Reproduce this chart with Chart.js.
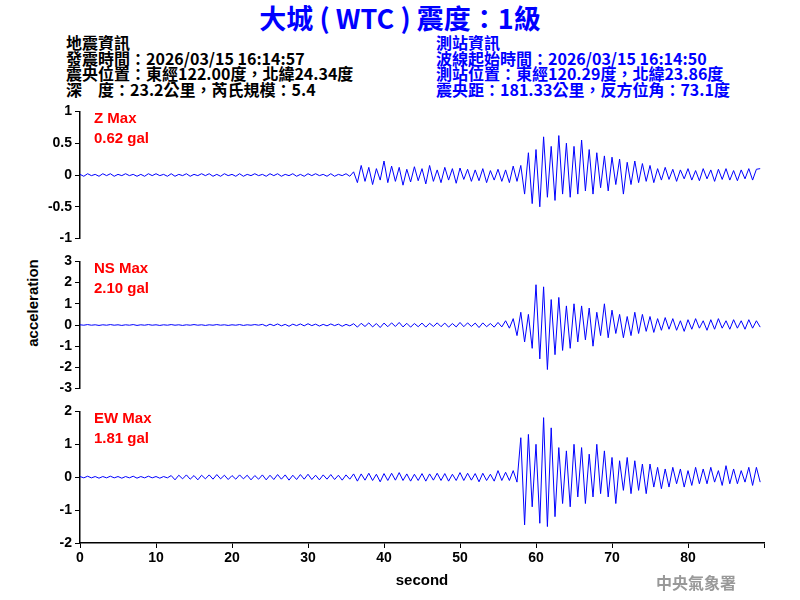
<!DOCTYPE html>
<html><head><meta charset="utf-8">
<script src="https://cdn.jsdelivr.net/npm/chart.js@4/dist/chart.umd.min.js"></script>
<style>
body{margin:0;width:800px;height:600px;position:relative;background:#fff;font-family:"Liberation Sans",Arial,sans-serif;overflow:hidden}
.t{position:absolute;white-space:nowrap}
canvas{position:absolute;left:0}
.info{font-family:"Noto Sans CJK TC","Liberation Sans",sans-serif;font-size:16px;font-weight:bold;line-height:15.7px}
.lab{color:#f00;font-size:15px;font-weight:bold;line-height:20px}
</style></head><body>
<div class="t" style="left:0;width:800px;text-align:center;top:2px;color:#0000ff;font-size:27px;font-weight:bold;line-height:32px;font-family:'Noto Sans CJK TC','Liberation Sans',sans-serif">大城 ( WTC ) 震度：1級</div>
<div class="t info" style="left:66px;top:35px;color:#000">地震資訊<br>發震時間：2026/03/15 16:14:57<br>震央位置：東經122.00度，北緯24.34度<br>深　度：23.2公里，芮氏規模：5.4</div>
<div class="t info" style="left:436px;top:35px;color:#0000ff">測站資訊<br>波線起始時間：2026/03/15 16:14:50<br>測站位置：東經120.29度，北緯23.86度<br>震央距：181.33公里，反方位角：73.1度</div>
<div class="t" style="left:32px;top:303px;transform:translate(-50%,-50%) rotate(-90deg);font-size:15px;font-weight:bold">acceleration</div>
<canvas id="c1" width="800" height="150" style="top:100px"></canvas>
<canvas id="c2" width="800" height="150" style="top:250px"></canvas>
<canvas id="c3" width="800" height="200" style="top:400px"></canvas>
<div class="t lab" style="left:94px;top:108px">Z Max<br>0.62 gal</div>
<div class="t lab" style="left:94px;top:258px">NS Max<br>2.10 gal</div>
<div class="t lab" style="left:94px;top:408px">EW Max<br>1.81 gal</div>
<div class="t" style="left:656px;top:570px;color:#999;font-size:16px;font-weight:bold;font-family:'Noto Sans CJK TC',serif">中央氣象署</div>
<script>
const dt = 0.5;
const zValues = [
0.01,-0.02,0.02,-0.01,0.01,-0.02,0.02,-0.01,0.02,-0.02,0.01,-0.01,0.02,-0.01,0.01,-0.02,0.01,-0.02,0.02,-0.01,0.02,-0.01,0.01,-0.02,
0.02,-0.02,0.01,-0.01,0.02,-0.02,0.01,-0.01,0.02,-0.01,0.02,-0.02,0.01,-0.02,0.02,-0.01,0.01,-0.02,0.02,-0.02,0.01,-0.01,0.02,-0.01,
0.01,-0.02,0.02,-0.01,0.02,-0.02,0.01,-0.01,0.02,-0.02,0.01,-0.02,0.02,-0.01,0.02,-0.01,0.01,-0.02,0.02,-0.02,0.01,-0.01,0.02,-0.02,
0.05,-0.12,0.15,-0.1,0.12,-0.15,0.1,-0.08,0.22,-0.12,0.14,-0.1,0.12,-0.16,0.09,-0.11,0.13,-0.09,0.1,-0.14,0.15,-0.1,
0.08,-0.12,0.12,-0.08,0.1,-0.13,0.11,-0.07,0.09,-0.1,0.08,-0.09,0.1,-0.12,0.07,-0.08,0.09,-0.1,0.08,-0.12,0.14,-0.1,
0.15,-0.3,0.35,-0.45,0.4,-0.5,0.6,-0.35,0.45,-0.4,0.62,-0.3,0.5,-0.35,0.45,-0.3,0.55,-0.25,0.4,-0.3,
0.35,-0.2,0.3,-0.25,0.28,-0.15,0.25,-0.3,0.2,-0.15,0.22,-0.12,0.18,-0.1,0.15,-0.12,
0.1,-0.08,0.12,-0.07,0.09,-0.1,0.08,-0.06,0.1,-0.08,0.07,-0.09,0.1,-0.06,0.08,-0.1,0.09,-0.07,0.1,-0.08,0.07,-0.09,0.08,-0.06,0.1,-0.08,0.09,0.1];
const nsValues = [
0.01,-0.01,0.02,-0.01,0.01,-0.02,0.01,-0.01,0.02,-0.01,0.01,-0.02,0.01,-0.01,0.02,-0.02,0.01,-0.01,0.02,-0.01,0.01,-0.02,0.01,-0.01,
0.02,-0.01,0.01,-0.02,0.01,-0.01,0.02,-0.01,0.01,-0.02,0.01,-0.01,0.02,-0.01,0.01,-0.02,0.01,-0.01,0.02,-0.02,0.01,-0.01,0.02,-0.01,
0.03,-0.05,0.04,-0.03,0.05,-0.04,0.03,-0.06,0.04,-0.03,0.05,-0.04,0.06,-0.03,0.04,-0.05,0.03,-0.04,0.05,-0.03,0.04,-0.06,0.03,-0.04,
0.06,-0.1,0.08,-0.07,0.1,-0.09,0.07,-0.12,0.09,-0.08,0.1,-0.07,0.12,-0.09,0.08,-0.1,0.07,-0.08,0.09,-0.1,0.08,-0.07,
0.1,-0.08,0.09,-0.1,0.07,-0.09,0.12,-0.08,0.1,-0.07,0.09,-0.12,0.1,-0.08,0.07,-0.1,0.12,-0.09,0.2,-0.15,0.3,-0.5,
0.6,-0.8,0.5,-1.1,1.9,-1.6,1.8,-2.1,1.2,-1.4,1.3,-1.2,0.9,-1.1,1.0,-0.8,0.9,-0.7,0.8,-1.0,
0.6,-0.5,1.0,-0.6,0.7,-0.4,0.5,-0.6,0.4,-0.5,0.6,-0.4,0.5,-0.3,0.4,-0.35,
0.3,-0.25,0.35,-0.2,0.3,-0.25,0.2,-0.3,0.25,-0.2,0.3,-0.15,0.2,-0.25,0.25,-0.2,0.3,-0.15,0.2,-0.2,0.25,-0.15,0.2,-0.2,0.25,-0.15,0.2,-0.1];
const ewValues = [
0.02,-0.02,0.03,-0.02,0.02,-0.03,0.02,-0.02,0.03,-0.02,0.02,-0.03,0.02,-0.02,0.03,-0.03,0.02,-0.02,0.03,-0.02,0.02,-0.03,0.02,-0.02,
0.05,-0.08,0.06,-0.05,0.07,-0.06,0.05,-0.08,0.06,-0.05,0.07,-0.06,0.08,-0.05,0.06,-0.07,0.05,-0.06,0.07,-0.05,0.06,-0.08,0.05,-0.06,
0.07,-0.08,0.06,-0.07,0.08,-0.06,0.07,-0.09,0.06,-0.07,0.08,-0.06,0.09,-0.07,0.06,-0.08,0.07,-0.06,0.08,-0.07,0.06,-0.09,0.07,-0.06,
0.1,-0.12,0.1,-0.09,0.12,-0.1,0.09,-0.14,0.11,-0.1,0.12,-0.09,0.14,-0.1,0.1,-0.12,0.09,-0.1,0.11,-0.12,0.1,-0.09,
0.12,-0.1,0.11,-0.12,0.09,-0.1,0.14,-0.1,0.12,-0.09,0.11,-0.14,0.12,-0.1,0.09,-0.12,0.2,-0.1,0.15,-0.1,0.2,-0.15,
1.2,-1.45,1.3,-0.9,1.0,-1.4,1.81,-1.5,1.5,-1.2,0.9,-0.8,0.8,-0.9,1.0,-0.6,0.9,-0.8,0.7,-0.6,
1.0,-0.5,0.8,-0.6,0.6,-0.8,0.5,-0.4,0.6,-0.5,0.5,-0.4,0.4,-0.5,0.4,-0.3,
0.3,-0.35,0.25,-0.3,0.3,-0.2,0.25,-0.3,0.2,-0.25,0.3,-0.2,0.25,-0.2,0.3,-0.15,0.2,-0.25,0.35,-0.2,0.25,-0.2,0.2,-0.15,0.3,-0.25,0.3,-0.15];
const xTicks = [0,10,20,30,40,50,60,70,80];

const F = {family:"'Liberation Sans',Arial,sans-serif",size:14,weight:'bold'};
function mk(id, vals, lim, step, showX){
  const pts = vals.map((v,i)=>({x:i*dt,y:v}));
  new Chart(document.getElementById(id),{
    type:'line',
    data:{datasets:[{data:pts,borderColor:'#0000ff',borderWidth:1,pointRadius:0,tension:0}]},
    options:{
      responsive:false,animation:false,
      layout:{padding:{top:7,bottom:showX?6:7,right:36,left:0}},
      plugins:{legend:{display:false},tooltip:{enabled:false}},
      scales:{
        x:{type:'linear',min:0,max:90,display:true,
           border:{display:showX,color:'#000',width:1.5},
           grid:{display:showX,drawOnChartArea:false,color:'#000',tickLength:5},
           ticks:{display:showX,stepSize:10,color:'#000',font:F,padding:2,callback:v=>xTicks.includes(v)?v:''},
           title:{display:showX,text:'second',color:'#000',font:{...F,size:15},padding:{top:4}},
           afterFit:s=>{s.height=showX?51:0}},
        y:{min:-lim,max:lim,
           border:{color:'#000',width:1.5},
           grid:{drawOnChartArea:false,color:'#000',tickLength:5},
           ticks:{stepSize:step,color:'#000',font:F,padding:3,callback:v=>String(Math.round(v*10)/10)},
           afterFit:s=>{s.width=80}}
      }
    }
  });
}
mk('c1',zValues,1,0.5,false);
mk('c2',nsValues,3,1,false);
mk('c3',ewValues,2,1,true);
</script>
</body></html>
